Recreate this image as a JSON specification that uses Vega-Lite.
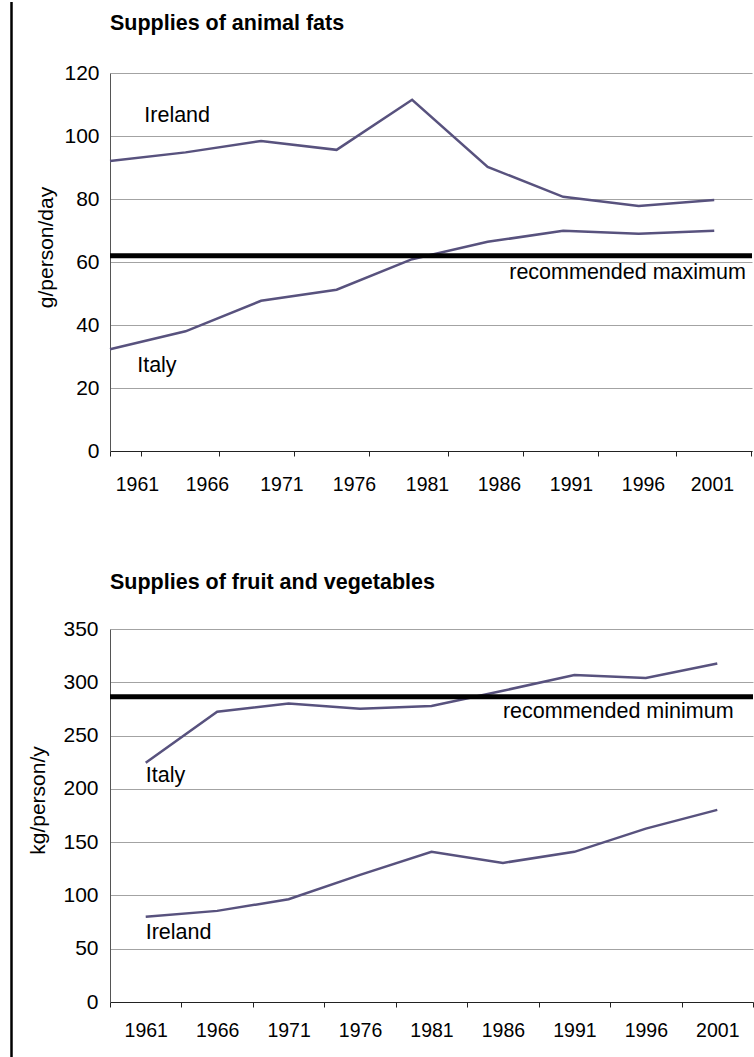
{
  "$schema": "https://vega.github.io/schema/vega-lite/v6.json",
  "padding": {"top": 0, "left": 10, "right": 0, "bottom": 0},
  "background": "white",
  "config": {
    "font": "Liberation Sans",
    "view": {"stroke": null},
    "axis": {"labelFontSize": 20, "labelColor": "black", "titleFontSize": 21, "titleFontWeight": "normal", "titleColor": "black", "labelFont": "Liberation Sans", "titleFont": "Liberation Sans"},
    "axisX": {"grid": false, "tickColor": "#222", "domainColor": "#222", "tickSize": 5, "labelPadding": 19, "title": null, "labelAngle": 0, "labelFontSize": 19.5},
    "axisY": {"grid": true, "gridColor": "#a3a3a3", "domainColor": "#555", "ticks": false, "labelPadding": 11, "labelFontSize": 21},
    "title": {"font": "Liberation Sans", "fontSize": 21.5, "fontWeight": "bold", "color": "black", "anchor": "start", "frame": "group"}
  },
  "datasets": {
    "fats": [
      {"series": "Ireland", "year": 1961, "value": 92.1},
      {"series": "Ireland", "year": 1966, "value": 94.8},
      {"series": "Ireland", "year": 1971, "value": 98.4},
      {"series": "Ireland", "year": 1976, "value": 95.6},
      {"series": "Ireland", "year": 1981, "value": 111.5},
      {"series": "Ireland", "year": 1986, "value": 90.2},
      {"series": "Ireland", "year": 1991, "value": 80.7},
      {"series": "Ireland", "year": 1996, "value": 77.8},
      {"series": "Ireland", "year": 2001, "value": 79.7},
      {"series": "Italy", "year": 1961, "value": 32.3},
      {"series": "Italy", "year": 1966, "value": 38.0},
      {"series": "Italy", "year": 1971, "value": 47.7},
      {"series": "Italy", "year": 1976, "value": 51.2},
      {"series": "Italy", "year": 1981, "value": 60.9},
      {"series": "Italy", "year": 1986, "value": 66.4},
      {"series": "Italy", "year": 1991, "value": 69.9},
      {"series": "Italy", "year": 1996, "value": 69.0},
      {"series": "Italy", "year": 2001, "value": 69.9}
    ],
    "fats_rec": [{"label": "recommended maximum", "value": 62}],
    "fats_text": [
      {"text": "Ireland", "year": 1963.27, "value": 106.4},
      {"text": "Italy", "year": 1962.8, "value": 27.0},
      {"text": "recommended maximum", "year": 1987.43, "value": 56.4}
    ],
    "veg": [
      {"series": "Italy", "year": 1961, "value": 224.4},
      {"series": "Italy", "year": 1966, "value": 272.3},
      {"series": "Italy", "year": 1971, "value": 280.1},
      {"series": "Italy", "year": 1976, "value": 275.1},
      {"series": "Italy", "year": 1981, "value": 277.7},
      {"series": "Italy", "year": 1986, "value": 292.1},
      {"series": "Italy", "year": 1991, "value": 306.8},
      {"series": "Italy", "year": 1996, "value": 304.0},
      {"series": "Italy", "year": 2001, "value": 317.7},
      {"series": "Ireland", "year": 1961, "value": 80.1},
      {"series": "Ireland", "year": 1966, "value": 85.5},
      {"series": "Ireland", "year": 1971, "value": 96.4},
      {"series": "Ireland", "year": 1976, "value": 119.3},
      {"series": "Ireland", "year": 1981, "value": 140.9},
      {"series": "Ireland", "year": 1986, "value": 130.5},
      {"series": "Ireland", "year": 1991, "value": 140.9},
      {"series": "Ireland", "year": 1996, "value": 162.7},
      {"series": "Ireland", "year": 2001, "value": 180.3}
    ],
    "veg_rec": [{"label": "recommended minimum", "value": 286.5}],
    "veg_text": [
      {"text": "Italy", "year": 1961, "value": 212.2},
      {"text": "Ireland", "year": 1961, "value": 65.1},
      {"text": "recommended minimum", "year": 1986, "value": 272.3}
    ]
  },
  "spacing": 14,
  "hconcat": [
    {
      "width": 1,
      "height": 378,
      "data": {"values": [{}]},
      "mark": {"type": "rule", "strokeWidth": 2.5, "color": "black"},
      "encoding": {
        "y": {"datum": 142.55, "type": "quantitative", "scale": {"domain": [0, 120], "nice": false}, "axis": null},
        "y2": {"datum": -194}
      }
    },
    {
      "spacing": 77,
      "vconcat": [
        {
          "width": 642,
          "height": 378,
          "title": {"text": "Supplies of animal fats", "offset": 11, "baseline": "alphabetic"},
          "layer": [
            {
              "data": {"name": "fats"},
              "mark": {"type": "line", "strokeWidth": 2.5},
              "encoding": {
                "x": {"field": "year", "type": "quantitative",
                  "scale": {"domain": [1961, 2003.5], "nice": false, "zero": false},
                  "axis": {
                    "values": [1961, 1963.05, 1968.24, 1973.2, 1978.17, 1983.36, 1988.33, 1993.3, 1998.48, 2003.45],
                    "labelExpr": "datum.value < 1962 ? '' : '' + floor(datum.value - 2)",
                    "labelFlush": false,
                    "labelOverlap": false,
                    "labelOffset": {
                      "condition": [
                        {"test": "datum.value < 1962", "value": 0},
                        {"test": "datum.value < 1965", "value": -4},
                        {"test": "datum.value < 1970", "value": -12.4},
                        {"test": "datum.value < 1975", "value": -12.9},
                        {"test": "datum.value < 1980", "value": -15.4},
                        {"test": "datum.value < 1985", "value": -20.8},
                        {"test": "datum.value < 1990", "value": -23.9},
                        {"test": "datum.value < 1995", "value": -26.9},
                        {"test": "datum.value < 2000", "value": -33.2}
                      ],
                      "value": -39.3
                    }
                  }
                },
                "y": {"field": "value", "type": "quantitative",
                  "scale": {"domain": [0, 120], "nice": false},
                  "axis": {"values": [0, 20, 40, 60, 80, 100, 120], "title": "g/person/day", "titleY": 174, "titlePadding": 7}
                },
                "color": {"field": "series", "type": "nominal", "scale": {"domain": ["Ireland", "Italy"], "range": ["#58527e", "#58527e"]}, "legend": null}
              }
            },
            {
              "data": {"name": "fats_rec"},
              "mark": {"type": "rule", "strokeWidth": 5, "color": "black"},
              "encoding": {"y": {"field": "value", "type": "quantitative"}}
            },
            {
              "data": {"name": "fats_text"},
              "mark": {"type": "text", "align": "left", "baseline": "middle", "fontSize": 21.5, "color": "black"},
              "encoding": {
                "x": {"field": "year", "type": "quantitative"},
                "y": {"field": "value", "type": "quantitative"},
                "text": {"field": "text"}
              }
            }
          ]
        },
        {
          "width": 643,
          "height": 373,
          "title": {"text": "Supplies of fruit and vegetables", "offset": 8, "baseline": "alphabetic"},
          "layer": [
            {
              "data": {"name": "veg"},
              "mark": {"type": "line", "strokeWidth": 2.5},
              "encoding": {
                "x": {"field": "year", "type": "ordinal",
                  "scale": {"type": "band", "paddingInner": 0, "paddingOuter": 0},
                  "axis": {"tickBand": "extent", "labelPadding": 14}
                },
                "y": {"field": "value", "type": "quantitative",
                  "scale": {"domain": [0, 350], "nice": false},
                  "axis": {"values": [0, 50, 100, 150, 200, 250, 300, 350], "title": "kg/person/y", "titleY": 171, "titlePadding": 14, "labelPadding": 12}
                },
                "color": {"field": "series", "type": "nominal", "scale": {"domain": ["Italy", "Ireland"], "range": ["#5a547f", "#29234f"]}, "legend": null}
              }
            },
            {
              "data": {"name": "veg_rec"},
              "mark": {"type": "rule", "strokeWidth": 5, "color": "black"},
              "encoding": {"y": {"field": "value", "type": "quantitative"}}
            },
            {
              "data": {"name": "veg_text"},
              "mark": {"type": "text", "align": "left", "baseline": "middle", "fontSize": 21.5, "color": "black"},
              "encoding": {
                "x": {"field": "year", "type": "ordinal"},
                "y": {"field": "value", "type": "quantitative"},
                "text": {"field": "text"}
              }
            }
          ]
        }
      ]
    }
  ]
}
